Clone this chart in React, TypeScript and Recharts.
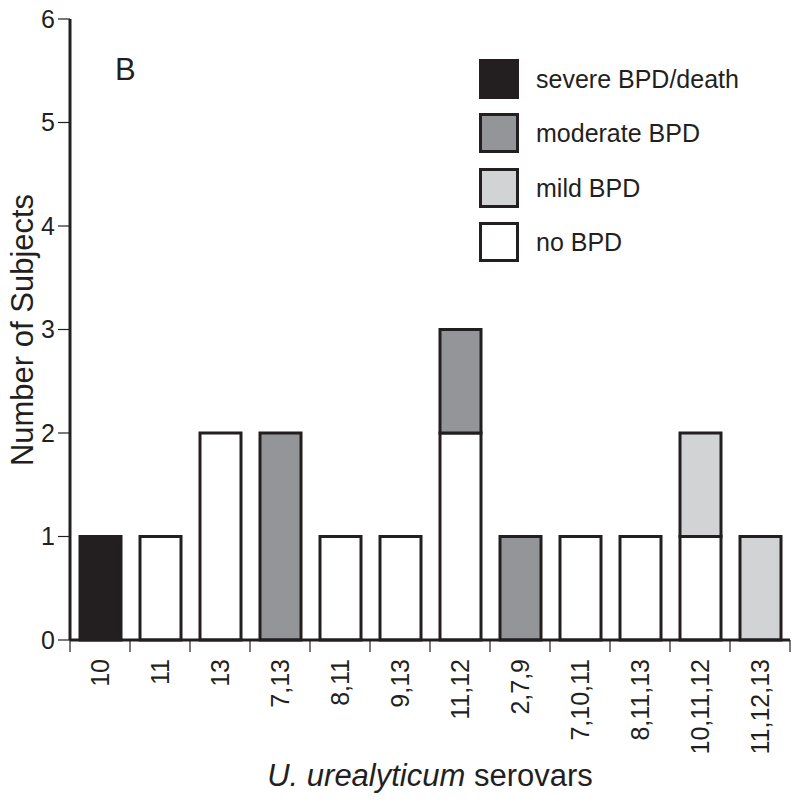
import React from 'react';
import { BarChart, Bar, XAxis, YAxis, Legend, Label } from 'recharts';

const categories = ['10', '11', '13', '7,13', '8,11', '9,13', '11,12', '2,7,9', '7,10,11', '8,11,13', '10,11,12', '11,12,13'];
const noBPD = [0, 1, 2, 0, 1, 1, 2, 0, 1, 1, 1, 0];
const mildBPD = [0, 0, 0, 0, 0, 0, 0, 0, 0, 0, 1, 1];
const moderateBPD = [0, 0, 0, 2, 0, 0, 1, 1, 0, 0, 0, 0];
const severeBPD = [1, 0, 0, 0, 0, 0, 0, 0, 0, 0, 0, 0];
const yTicks = [0, 1, 2, 3, 4, 5, 6];

const INK = '#231f20';
const FONT = '"Liberation Sans", Arial, Helvetica, sans-serif';

const series = [
  { key: 'none', name: 'no BPD', fill: '#ffffff' },
  { key: 'mild', name: 'mild BPD', fill: '#d1d3d4' },
  { key: 'moderate', name: 'moderate BPD', fill: '#939598' },
  { key: 'severe', name: 'severe BPD/death', fill: INK },
];

const data = categories.map((c, i) => ({
  cat: c,
  none: noBPD[i],
  mild: mildBPD[i],
  moderate: moderateBPD[i],
  severe: severeBPD[i],
}));

function XTick(props: any) {
  const { x, y, payload, width } = props;
  const half = typeof width === 'number' ? width / categories.length / 2 : 30;
  const idx = categories.indexOf(payload.value);
  return (
    <g>
      <line x1={x - half} x2={x - half} y1={y} y2={y + 12} stroke={INK} strokeWidth={1.2} />
      {idx === categories.length - 1 && (
        <line x1={x + half} x2={x + half} y1={y} y2={y + 12} stroke={INK} strokeWidth={1.2} />
      )}
      <text
        x={x}
        y={y + 19}
        transform={`rotate(-90, ${x}, ${y + 19})`}
        textAnchor="end"
        dy="0.35em"
        fill={INK}
        fontSize={25}
        fontFamily={FONT}
      >
        {payload.value}
      </text>
    </g>
  );
}

function LegendBox() {
  const items = [...series].reverse();
  return (
    <div style={{ fontFamily: FONT, color: INK }}>
      {items.map((s) => (
        <div key={s.key} style={{ display: 'flex', alignItems: 'center', height: 54.5 }}>
          <div
            style={{
              width: 40,
              height: 40,
              boxSizing: 'border-box',
              border: `3px solid ${INK}`,
              background: s.fill,
              marginRight: 17,
            }}
          />
          <span style={{ fontSize: 25, lineHeight: '40px' }}>{s.name}</span>
        </div>
      ))}
    </div>
  );
}

export default function App() {
  return (
    <div style={{ position: 'absolute', left: 0, top: 0, width: 800, height: 801, background: '#fff' }}>
      <BarChart
        width={800}
        height={801}
        data={data}
        margin={{ top: 19, right: 10, left: 10, bottom: 0 }}
      >
        <XAxis
          dataKey="cat"
          height={161}
          axisLine={{ stroke: INK, strokeWidth: 3 }}
          tickLine={false}
          tickSize={0}
          tickMargin={0}
          interval={0}
          tick={<XTick />}
        >
          <Label
            content={(p: any) => {
              const vb = p.viewBox || { x: 70, y: 640, width: 720 };
              return (
                <text
                  x={vb.x + vb.width / 2}
                  y={786}
                  textAnchor="middle"
                  fill={INK}
                  fontSize={31}
                  fontFamily={FONT}
                >
                  <tspan fontStyle="italic">U. urealyticum</tspan>
                  <tspan> serovars</tspan>
                </text>
              );
            }}
          />
        </XAxis>
        <YAxis
          width={60}
          domain={[0, 6]}
          ticks={yTicks}
          interval={0}
          axisLine={{ stroke: INK, strokeWidth: 3 }}
          tickLine={{ stroke: INK, strokeWidth: 1.2 }}
          tickSize={12}
          tickMargin={3}
          tick={{ fill: INK, fontSize: 25, fontFamily: FONT }}
        >
          <Label
            content={() => (
              <text
                x={22}
                y={330}
                transform="rotate(-90, 22, 330)"
                textAnchor="middle"
                dy="0.35em"
                fill={INK}
                fontSize={31}
                fontFamily={FONT}
              >
                Number of Subjects
              </text>
            )}
          />
        </YAxis>
        <Legend
          layout="horizontal"
          verticalAlign="middle"
          align="center"
          content={<LegendBox />}
          wrapperStyle={{ left: 479, top: 51.5, width: 310, height: 220 }}
        />
        {series.map((s) => (
          <Bar
            key={s.key}
            dataKey={s.key}
            name={s.name}
            stackId="a"
            fill={s.fill}
            stroke={INK}
            strokeWidth={3}
            barSize={41}
            isAnimationActive={false}
          />
        ))}
      </BarChart>
      <div
        style={{
          position: 'absolute',
          left: 115,
          top: 52,
          fontFamily: FONT,
          fontSize: 31,
          color: INK,
          lineHeight: '36px',
        }}
      >
        B
      </div>
    </div>
  );
}
